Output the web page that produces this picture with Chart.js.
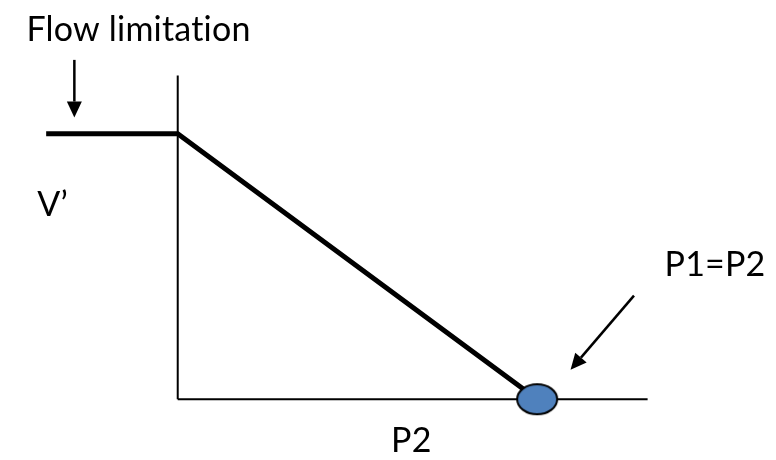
<!DOCTYPE html>
<html>
<head>
<meta charset="utf-8">
<script src="https://cdn.jsdelivr.net/npm/chart.js@4"></script>
<style>
  html, body { margin: 0; padding: 0; background: #fff; }
  #wrap { width: 776px; height: 460px; }
</style>
</head>
<body>
<div id="wrap"><canvas id="chart" width="776" height="460"></canvas></div>
<script>
// diagram units: P2 along x, V' along y, axes run 0..10
const xAxisLine = [{x: 0, y: 0}, {x: 10, y: 0}];
const yAxisLine = [{x: 0, y: 0}, {x: 0, y: 10}];

// V' against P2: flat at the flow limitation, then falling to zero at P1
const curveP2 = [-2.8, 0, 7.65];
const curveV = [8.2, 8.2, 0];

const pointP1 = [{x: 7.65, y: 0}];

// arrows: [from, to]
const arrows = [
  [{x: -2.2, y: 10.48}, {x: -2.2, y: 8.7}],
  [{x: 9.71, y: 3.2}, {x: 8.36, y: 0.91}]
];

const labels = [
  {text: "Flow limitation", x: -3.22, y: 11.07},
  {text: "V\u2019", x: -2.99, y: 5.67},
  {text: "P2", x: 4.54, y: -1.63},
  {text: "P1=P2", x: 10.36, y: 3.8}
];

const FONT = '34px Lato, "Open Sans", sans-serif';

// ellipse marker for P1=P2
const dot = document.createElement("canvas");
dot.width = 46; dot.height = 36;
(function () {
  const c = dot.getContext("2d");
  c.beginPath();
  c.ellipse(23, 18, 20, 15, 0, 0, Math.PI * 2);
  c.fillStyle = "#4F81BD";
  c.fill();
  c.lineWidth = 2;
  c.strokeStyle = "#000";
  c.stroke();
})();

const extras = {
  id: "extras",
  afterDatasetsDraw(chart) {
    const ctx = chart.ctx, xs = chart.scales.x, ys = chart.scales.y;
    ctx.save();
    ctx.strokeStyle = "#000";
    ctx.fillStyle = "#000";
    ctx.lineWidth = 2.5;
    arrows.forEach(([a, b]) => {
      const x1 = xs.getPixelForValue(a.x), y1 = ys.getPixelForValue(a.y);
      const x2 = xs.getPixelForValue(b.x), y2 = ys.getPixelForValue(b.y);
      const ang = Math.atan2(y2 - y1, x2 - x1);
      const len = 16, half = 7.5;
      const bx = x2 - len * Math.cos(ang), by = y2 - len * Math.sin(ang);
      ctx.beginPath();
      ctx.moveTo(x1, y1);
      ctx.lineTo(bx, by);
      ctx.stroke();
      ctx.beginPath();
      ctx.moveTo(x2, y2);
      ctx.lineTo(bx + half * Math.sin(ang), by - half * Math.cos(ang));
      ctx.lineTo(bx - half * Math.sin(ang), by + half * Math.cos(ang));
      ctx.closePath();
      ctx.fill();
    });
    ctx.font = FONT;
    // a little spacing keeps Lato from merging "ti" into a ligature
    ctx.letterSpacing = "0.2px";
    ctx.textBaseline = "alphabetic";
    ctx.textAlign = "left";
    labels.forEach(l => {
      ctx.fillText(l.text, xs.getPixelForValue(l.x), ys.getPixelForValue(l.y));
    });
    ctx.restore();
  }
};

new Chart(document.getElementById("chart"), {
  type: "scatter",
  data: {
    datasets: [
      {
        data: pointP1,
        pointStyle: dot,
        order: 0
      },
      {
        data: curveP2.map((x, i) => ({x, y: curveV[i]})),
        showLine: true,
        borderColor: "#000",
        borderWidth: 5,
        pointRadius: 0,
        borderJoinStyle: "miter",
        order: 1
      },
      {
        data: xAxisLine,
        showLine: true,
        borderColor: "#000",
        borderWidth: 2,
        pointRadius: 0,
        order: 2
      },
      {
        data: yAxisLine,
        showLine: true,
        borderColor: "#000",
        borderWidth: 2,
        pointRadius: 0,
        order: 2
      }
    ]
  },
  options: {
    responsive: false,
    animation: false,
    layout: { padding: 0 },
    plugins: { legend: { display: false }, tooltip: { enabled: false } },
    scales: {
      x: { type: "linear", display: false, min: -3.676, max: 12.626 },
      y: { type: "linear", display: false, min: -1.722, max: 12.175 }
    }
  },
  plugins: [extras]
});
</script>
</body>
</html>
